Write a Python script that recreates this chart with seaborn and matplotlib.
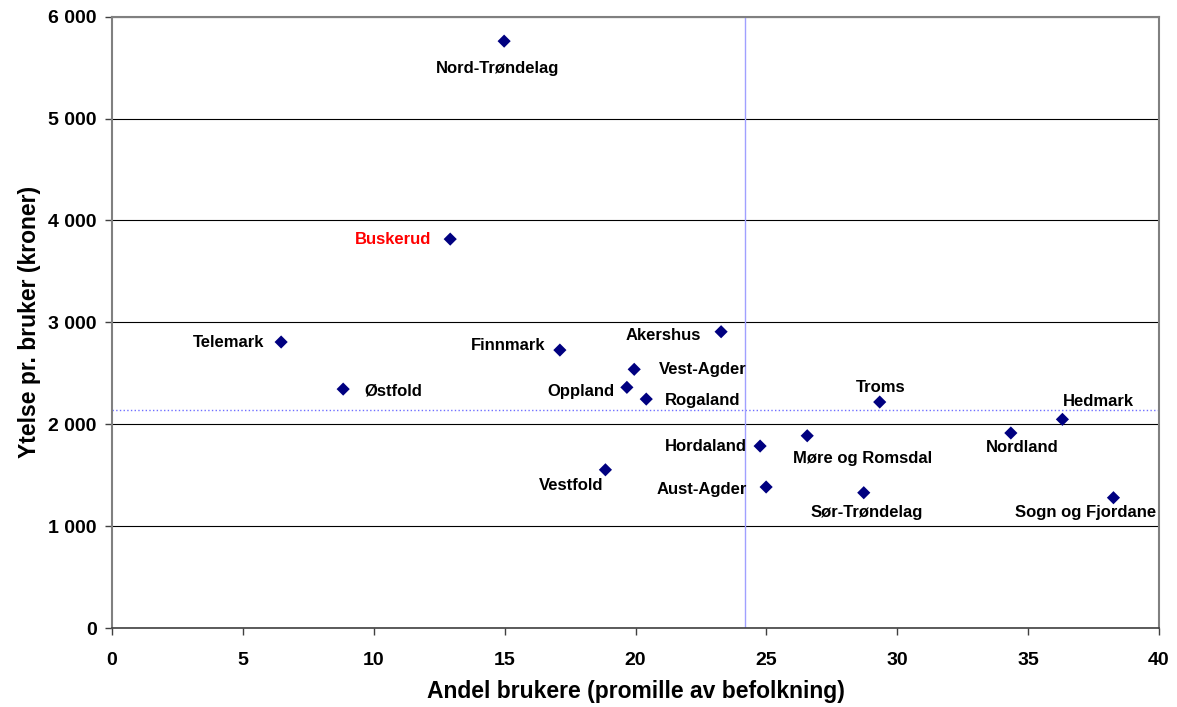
import pandas as pd
import matplotlib as mpl
import matplotlib.pyplot as plt
import seaborn as sns
from matplotlib.ticker import FuncFormatter, MultipleLocator
mpl.use('agg')

fylker = ['Nord-Trøndelag', 'Buskerud', 'Telemark', 'Østfold', 'Finnmark', 'Akershus',
          'Vest-Agder', 'Oppland', 'Rogaland', 'Troms', 'Hedmark', 'Nordland',
          'Hordaland', 'Møre og Romsdal', 'Vestfold', 'Aust-Agder', 'Sør-Trøndelag',
          'Sogn og Fjordane']
andel = [14.98, 12.92, 6.46, 8.83, 17.11, 23.27, 19.95, 19.67, 20.41, 29.33, 36.31, 34.34,
         24.76, 26.56, 18.85, 24.99, 28.72, 38.26]
ytelse = [5760, 3817, 2807, 2345, 2728, 2908, 2539, 2362, 2247, 2218, 2048, 1914,
          1786, 1887, 1553, 1384, 1328, 1279]
snitt_andel = 24.17
snitt_ytelse = 2139

# label offsets in pixels (dx, dy, ha)
offsets = {
    'Nord-Trøndelag': (-7, -27, 'center'),
    'Buskerud': (-19, 0, 'right'),
    'Telemark': (-17, 0, 'right'),
    'Østfold': (21, -2, 'left'),
    'Finnmark': (-15, 5, 'right'),
    'Akershus': (-20, -4, 'right'),
    'Vest-Agder': (25, 0, 'left'),
    'Oppland': (-12, -4, 'right'),
    'Rogaland': (19, -1, 'left'),
    'Troms': (1, 15, 'center'),
    'Hedmark': (0, 18, 'left'),
    'Nordland': (11, -14, 'center'),
    'Hordaland': (-13, 0, 'right'),
    'Møre og Romsdal': (-14, -23, 'left'),
    'Vestfold': (-2, -16, 'right'),
    'Aust-Agder': (-19, -2, 'right'),
    'Sør-Trøndelag': (3, -20, 'center'),
    'Sogn og Fjordane': (-28, -15, 'center'),
}

df = pd.DataFrame({'fylke': fylker, 'andel': andel, 'ytelse': ytelse})

plt.rcParams['font.family'] = ['Liberation Sans', 'DejaVu Sans']
fig = plt.figure(figsize=(11.77, 7.07), dpi=100)
ax = fig.add_axes([0.0952, 0.1117, 0.8895, 0.8647])

ax.axhline(snitt_ytelse, color='#6f6fff', lw=1, ls=':', zorder=1)
ax.axvline(snitt_andel, color='#a0a0ff', lw=1, ls='-', zorder=1)
sns.scatterplot(data=df, x='andel', y='ytelse', marker='D', s=45, color='#000080',
                edgecolor='none', ax=ax, zorder=3)

for f, x, y in zip(fylker, andel, ytelse):
    dx, dy, ha = offsets[f]
    ax.annotate(f, (x, y), xytext=(dx, dy), textcoords='offset pixels', ha=ha, va='center',
                fontsize=12, fontweight='bold', color='red' if f == 'Buskerud' else 'black')

ax.set_xlim(0, 40)
ax.set_ylim(0, 6000)
ax.xaxis.set_major_locator(MultipleLocator(5))
ax.yaxis.set_major_locator(MultipleLocator(1000))
ax.yaxis.set_major_formatter(FuncFormatter(lambda v, p: f'{int(v):,}'.replace(',', ' ')))
ax.grid(axis='y', color='black', lw=0.8)
ax.set_axisbelow(True)
for s in ['left', 'right', 'top']:
    ax.spines[s].set_color('#808080')
    ax.spines[s].set_linewidth(1.5)
ax.spines['bottom'].set_color('#404040')
ax.spines['bottom'].set_linewidth(1.2)
ax.tick_params(axis='both', labelsize=14, length=5, width=1, color='#404040')
ax.tick_params(axis='x', pad=12)
ax.tick_params(axis='y', pad=6)
for lab in ax.get_xticklabels() + ax.get_yticklabels():
    lab.set_fontweight('bold')
ax.set_xlabel('Andel brukere (promille av befolkning)', fontsize=16.5, fontweight='bold', labelpad=8)
ax.set_ylabel('Ytelse pr. bruker (kroner)', fontsize=16.5, fontweight='bold', labelpad=5)

plt.savefig('out.png', dpi=100)
